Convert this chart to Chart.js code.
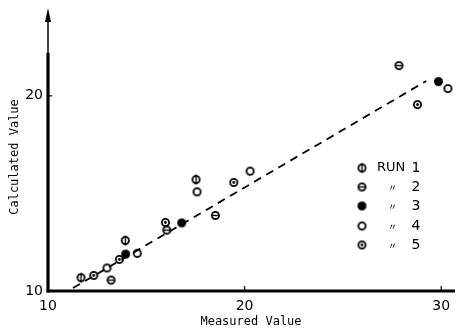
<!DOCTYPE html>
<html><head><meta charset="utf-8">
<script src="https://cdn.jsdelivr.net/npm/chart.js@4/dist/chart.umd.min.js"></script>
<style>html,body{margin:0;padding:0;background:#fff}#wrap{width:466px;height:333px;position:relative}</style>
</head><body><div id="wrap"><canvas id="c"></canvas></div>
<script>
// Measured vs calculated values, five runs
const run1 = [[11.68,10.68],[13.93,12.59],[17.53,15.71]];
const run2 = [[13.21,10.56],[16.04,13.12],[18.51,13.87],[27.85,21.55]];
const run3 = [[13.95,11.89],[16.80,13.49],[29.86,20.73]];
const run4 = [[13.00,11.18],[14.54,11.93],[17.58,15.08],[20.28,16.14],[30.34,20.37]];
const run5 = [[12.33,10.80],[13.63,11.62],[15.97,13.51],[19.45,15.56],[28.79,19.55]];
const fitLine = [[11.27,10.15],[29.24,20.76]];
const xTicks = [10,20,30];
const yTicks = [10,20];
const runNames = ['RUN','〃','〃','〃','〃'];
const runNumbers = ['1','2','3','4','5'];

function marker(kind){
  const s = 13, c = document.createElement('canvas');
  c.width = s; c.height = s;
  const g = c.getContext('2d');
  const m = s/2;
  g.strokeStyle = '#000'; g.fillStyle = '#000'; g.lineWidth = 1.8;
  g.beginPath(); g.arc(m, m, 3.6, 0, Math.PI*2);
  if (kind === 'filled') { g.beginPath(); g.arc(m, m, 4.5, 0, Math.PI*2); g.fill(); return c; }
  g.stroke();
  g.lineWidth = 1.4;
  if (kind === 'phi') { g.beginPath(); g.moveTo(m, m-5); g.lineTo(m, m+5); g.stroke(); }
  if (kind === 'theta') { g.beginPath(); g.moveTo(m-3, m); g.lineTo(m+3, m); g.stroke(); }
  if (kind === 'dot') { g.beginPath(); g.arc(m, m, 1.4, 0, Math.PI*2); g.fill(); }
  return c;
}
const styles = [marker('phi'), marker('theta'), marker('filled'), marker('open'), marker('dot')];
const runs = [run1, run2, run3, run4, run5];
const toPts = a => a.map(p => ({x:p[0], y:p[1]}));

const datasets = runs.map((r,i) => ({
  label: 'RUN ' + runNumbers[i],
  data: toPts(r),
  pointStyle: styles[i],
  showLine: false
}));
datasets.push({
  label: 'fit', data: toPts(fitLine), showLine: true, pointRadius: 0,
  borderColor: '#000', borderWidth: 1.8, borderDash: [8,6], fill: false
});

const decor = {
  id: 'decor',
  afterDraw(chart){
    const ctx = chart.ctx, a = chart.chartArea;
    const xs = chart.scales.x, ys = chart.scales.y;
    ctx.save();
    ctx.fillStyle = '#000'; ctx.strokeStyle = '#000';
    // x axis
    ctx.lineWidth = 3.2;
    ctx.beginPath(); ctx.moveTo(a.left - 1.5, a.bottom); ctx.lineTo(xs.getPixelForValue(30.7), a.bottom); ctx.stroke();
    // y axis: heavy lower part, thin upper part with arrow
    const yBreak = ys.getPixelForValue(22.2);
    ctx.beginPath(); ctx.moveTo(a.left, a.bottom + 1.5); ctx.lineTo(a.left, yBreak); ctx.stroke();
    ctx.lineWidth = 1.5;
    ctx.beginPath(); ctx.moveTo(a.left, yBreak); ctx.lineTo(a.left, a.top + 8); ctx.stroke();
    ctx.beginPath(); ctx.moveTo(a.left, a.top); ctx.lineTo(a.left - 3, a.top + 14); ctx.lineTo(a.left + 3, a.top + 14); ctx.closePath(); ctx.fill();
    // inner tick marks
    ctx.lineWidth = 1.2;
    xTicks.slice(1).forEach(v => { const px = xs.getPixelForValue(v); ctx.beginPath(); ctx.moveTo(px, a.bottom); ctx.lineTo(px, a.bottom - 5); ctx.stroke(); });
    yTicks.slice(1).forEach(v => { const py = ys.getPixelForValue(v); ctx.beginPath(); ctx.moveTo(a.left, py); ctx.lineTo(a.left + 4, py); ctx.stroke(); });
    // axis titles
    ctx.font = '12px "DejaVu Sans Mono"';
    ctx.textAlign = 'center'; ctx.textBaseline = 'middle';
    ctx.fillText('Measured Value', 251, 322);
    ctx.save(); ctx.translate(15, 157); ctx.rotate(-Math.PI/2); ctx.fillText('Calculated Value', 0, 0); ctx.restore();
    // legend
    const rows = [168, 187, 206, 226, 245];
    rows.forEach((y, i) => {
      ctx.drawImage(styles[i], 362 - 6.5, y - 6.5);
      ctx.textAlign = 'left';
      if (i === 0) { ctx.font = '13px "DejaVu Sans"'; ctx.fillText(runNames[i], 377, y); }
      else { ctx.font = '9px "Noto Sans CJK JP"'; ctx.fillText(runNames[i], 388, y + 1); }
      ctx.font = '14px "DejaVu Sans"'; ctx.textAlign = 'center';
      ctx.fillText(runNumbers[i], 416, y);
    });
    ctx.restore();
  }
};

new Chart(document.getElementById('c'), {
  type: 'scatter',
  data: { datasets },
  options: {
    responsive: true, maintainAspectRatio: false, animation: false,
    layout: { padding: { top: 8, right: 11, left: 0, bottom: 0 } },
    plugins: { legend: { display: false }, tooltip: { enabled: false } },
    elements: { point: { radius: 6 } },
    scales: {
      x: {
        type: 'linear', min: 10, max: 30.7,
        afterBuildTicks: s => { s.ticks = xTicks.map(v => ({value: v})); },
        afterFit: s => { s.height = 42; s.paddingLeft = 0; s.paddingRight = 0; },
        grid: { display: false, drawTicks: false }, border: { display: false },
        ticks: { color: '#000', padding: 7, font: { family: 'DejaVu Sans', size: 14 } }
      },
      y: {
        type: 'linear', min: 10, max: 24.5,
        afterBuildTicks: s => { s.ticks = yTicks.map(v => ({value: v})); },
        afterFit: s => { s.width = 48; s.paddingTop = 0; s.paddingBottom = 0; },
        grid: { display: false, drawTicks: false }, border: { display: false },
        ticks: { color: '#000', padding: 5, font: { family: 'DejaVu Sans', size: 14 } }
      }
    }
  },
  plugins: [decor]
});
</script></body></html>
